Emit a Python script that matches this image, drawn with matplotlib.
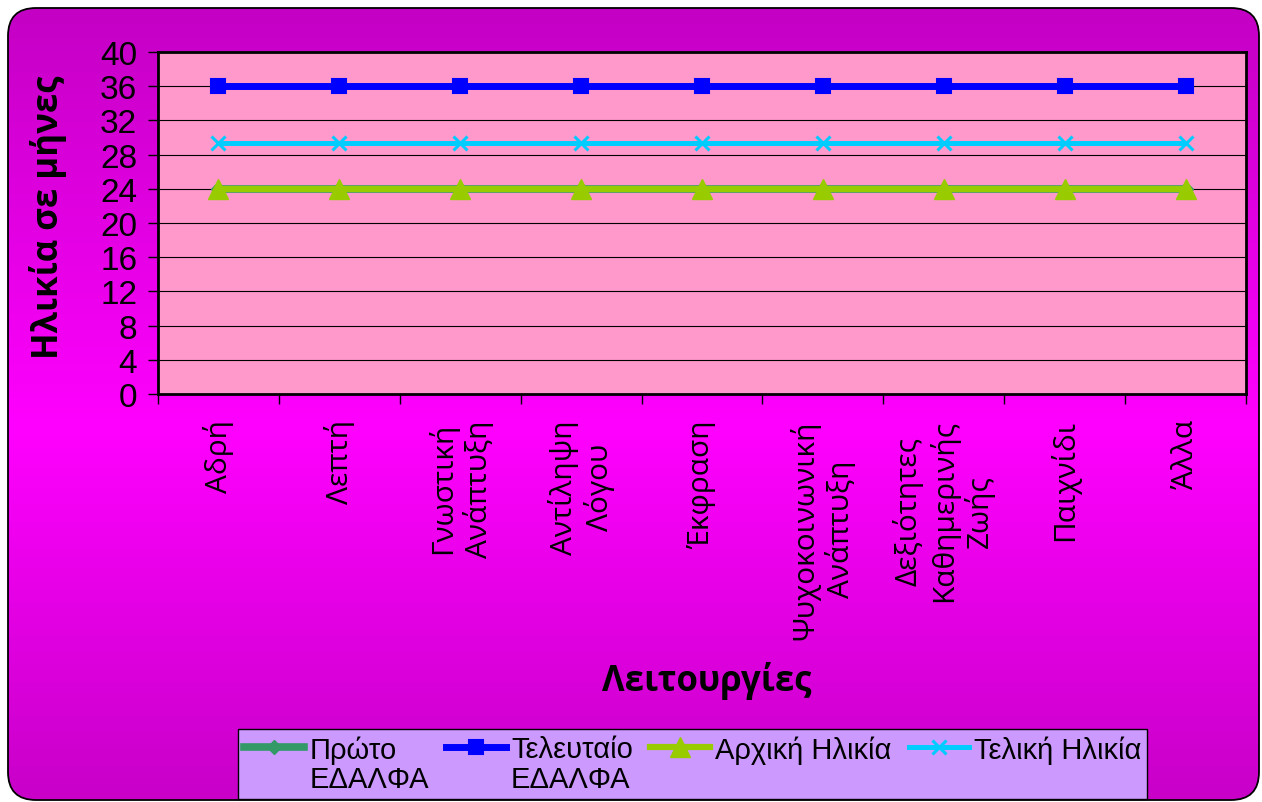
import matplotlib
matplotlib.use("Agg")
import matplotlib.pyplot as plt
import numpy as np
from matplotlib.patches import FancyBboxPatch
from matplotlib.colors import LinearSegmentedColormap

# ---- data -----------------------------------------------------------------
categories = ["Αδρή", "Λεπτή", "Γνωστική\nΑνάπτυξη", "Αντίληψη\nΛόγου", "Έκφραση",
              "Ψυχοκοινωνική\nΑνάπτυξη", "Δεξιότητες\nΚαθημερινής\nΖωής", "Παιχνίδι", "Άλλα"]
first_edalfa = [24, 24, 24, 24, 24, 24, 24, 24, 24]
last_edalfa = [36, 36, 36, 36, 36, 36, 36, 36, 36]
initial_age = [24, 24, 24, 24, 24, 24, 24, 24, 24]
final_age = [29.3, 29.3, 29.3, 29.3, 29.3, 29.3, 29.3, 29.3, 29.3]
series_labels = ["Πρώτο\nΕΔΑΛΦΑ", "Τελευταίο\nΕΔΑΛΦΑ", "Αρχική Ηλικία", "Τελική Ηλικία"]
y_ticks = [0, 4, 8, 12, 16, 20, 24, 28, 32, 36, 40]
y_title = "Ηλικία σε μήνες"
x_title = "Λειτουργίες"

W, H = 1262, 803
fig = plt.figure(figsize=(W / 100, H / 100), dpi=100)
fig.patch.set_facecolor("white")

# ---- rounded gradient panel behind everything -----------------------------
bg = fig.add_axes([0, 0, 1, 1], zorder=-10)
bg.set_xlim(0, W)
bg.set_ylim(H, 0)
bg.axis("off")
frame = FancyBboxPatch((8, 9), 1251, 792, boxstyle="round,pad=0,rounding_size=28",
                       facecolor="none", edgecolor="black", lw=1.3,
                       transform=bg.transData, zorder=2)
cmap = LinearSegmentedColormap.from_list(
    "panel", [(0.0, "#C400C4"), (0.53, "#FF00FF"), (1.0, "#C800C8")])
img = bg.imshow(np.linspace(0, 1, 256).reshape(-1, 1), cmap=cmap,
                extent=(8, 1259, 801, 9), aspect="auto", origin="upper", zorder=1)
bg.add_patch(frame)
img.set_clip_path(frame)

# ---- plot area -------------------------------------------------------------
ax = fig.add_axes([158 / W, 1 - 395 / H, (1246 - 158) / W, (395 - 53) / H])
ax.set_facecolor("#FF99CC")
x = np.arange(len(categories))

ax.plot(x, first_edalfa, color="#339966", lw=5.5, marker="D", ms=7,
        label=series_labels[0], zorder=3)
ax.plot(x, last_edalfa, color="#0000FF", lw=5, marker="s", ms=10, mew=1.5,
        label=series_labels[1], zorder=3)
ax.plot(x, initial_age, color="#99CC00", lw=4.5, marker="^", ms=14,
        label=series_labels[2], zorder=4)
ax.plot(x, final_age, color="#00CCFF", lw=3.6, marker="x", ms=10, mew=2.2,
        label=series_labels[3], zorder=3)

ax.set_xlim(-0.5, len(categories) - 0.5)
ax.set_ylim(0, 40)
ax.set_yticks(y_ticks)
ax.yaxis.grid(True, color="black", lw=0.8)
ax.set_axisbelow(True)
for s in ax.spines.values():
    s.set_linewidth(2)
    s.set_color("black")

ax.tick_params(axis="y", length=7, width=1, pad=8, labelsize=24)
for lab in ax.get_yticklabels():
    lab.set_family(["Liberation Sans", "DejaVu Sans"])

ax.set_xticks(x)
ax.set_xticklabels(categories, rotation=90, ha="center", va="top",
                   multialignment="center", fontsize=21.5,
                   family=["Open Sans", "DejaVu Sans"])
ax.set_xticks(np.arange(-0.5, len(categories), 1), minor=True)
ax.tick_params(axis="x", which="major", length=0, pad=18)
ax.tick_params(axis="x", which="minor", length=7, width=1)

# ---- titles ----------------------------------------------------------------
fig.text(48 / W, 1 - 217 / H, y_title, rotation=90, ha="center", va="center",
         fontsize=25, fontweight="bold", family=["Open Sans", "DejaVu Sans"])
fig.text(707 / W, 1 - 681 / H, x_title, ha="center", va="center",
         fontsize=25, fontweight="bold", family=["Open Sans", "DejaVu Sans"])

# ---- legend ----------------------------------------------------------------
leg = fig.legend(loc="upper left", bbox_to_anchor=(238 / W, 1 - 730 / H),
                 ncol=4, frameon=True, fancybox=False, borderaxespad=0,
                 prop={"family": ["Liberation Sans", "DejaVu Sans"], "size": 21},
                 handlelength=2.05, handleheight=0.9, handletextpad=0.17,
                 columnspacing=0.6, borderpad=0.22)
leg.get_frame().set_facecolor("#CC99FF")
leg.get_frame().set_edgecolor("black")
leg.get_frame().set_linewidth(1)
leg.get_frame().set_alpha(1)
for t in leg.get_texts():
    t.set_linespacing(1.05)
leg._legend_handle_box.align = "top"
for col in leg._legend_handle_box.get_children():
    for item in col.get_children():
        item.align = "top"

fig.savefig("out.png", dpi=100, facecolor="white")
